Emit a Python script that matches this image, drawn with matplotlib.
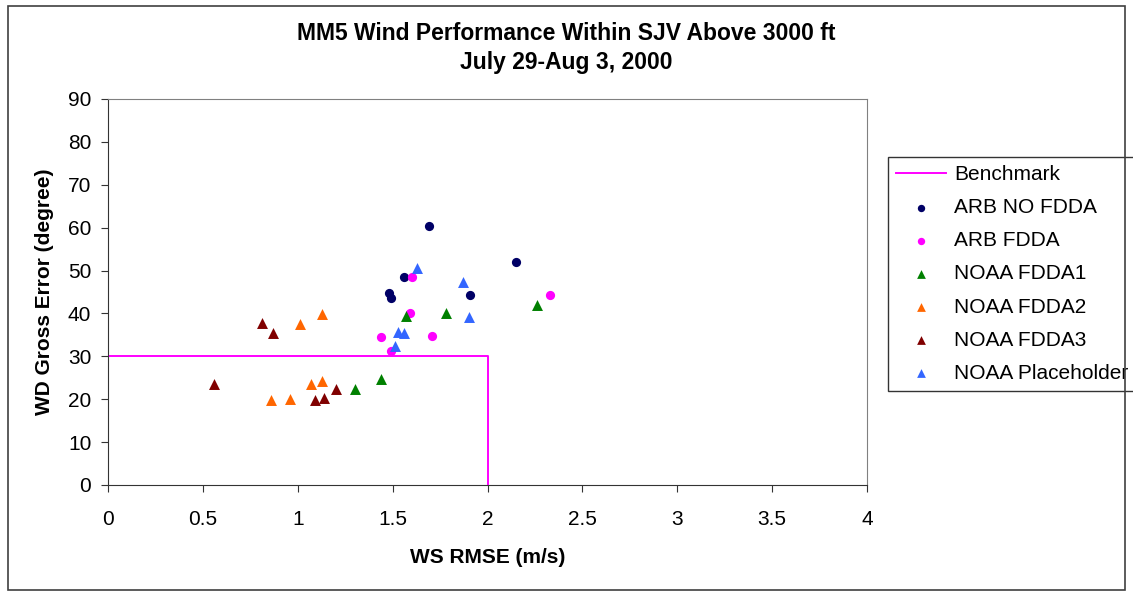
"""MM5 wind performance scatter (WS RMSE vs WD gross error)."""

import matplotlib

matplotlib.use("Agg")

import matplotlib.pyplot as plt
from matplotlib.patches import Rectangle

plt.rcParams["font.family"] = ["Liberation Sans", "DejaVu Sans"]

# benchmark box
bench_x = [0, 2, 2]
bench_y = [30, 30, 0]

arb_no_fdda_x = [1.69, 2.15, 1.56, 1.48, 1.49, 1.91]
arb_no_fdda_y = [60.5, 52.0, 48.4, 44.7, 43.5, 44.2]

arb_fdda_x = [1.60, 1.59, 1.44, 1.49, 1.71, 2.33]
arb_fdda_y = [48.6, 40.2, 34.4, 31.2, 34.7, 44.2]

fdda1_x = [1.57, 1.78, 2.26, 1.30, 1.44]
fdda1_y = [39.3, 40.2, 41.9, 22.5, 24.6]

fdda2_x = [1.13, 1.01, 1.07, 1.13, 0.86, 0.96]
fdda2_y = [39.9, 37.5, 23.5, 24.3, 19.8, 20.1]

fdda3_x = [0.81, 0.87, 0.56, 1.20, 1.14, 1.09]
fdda3_y = [37.8, 35.5, 23.5, 22.5, 20.4, 19.8]

placeholder_x = [1.63, 1.87, 1.90, 1.53, 1.56, 1.51]
placeholder_y = [50.5, 47.4, 39.2, 35.7, 35.5, 32.4]

series = [
    ("ARB NO FDDA", arb_no_fdda_x, arb_no_fdda_y, "o", "#000066"),
    ("ARB FDDA", arb_fdda_x, arb_fdda_y, "o", "#ff00ff"),
    ("NOAA FDDA1", fdda1_x, fdda1_y, "^", "#008000"),
    ("NOAA FDDA2", fdda2_x, fdda2_y, "^", "#ff6600"),
    ("NOAA FDDA3", fdda3_x, fdda3_y, "^", "#800000"),
    ("NOAA Placeholder", placeholder_x, placeholder_y, "^", "#3366ff"),
]


def main() -> None:
    fig = plt.figure(figsize=(11.33, 5.96), dpi=100)
    fig.patches.append(Rectangle((0.007, 0.01), 0.986, 0.98, transform=fig.transFigure,
                                 fill=False, edgecolor="#404040", linewidth=1.2))
    ax = fig.add_axes([108 / 1133, 1 - 485 / 596, (867 - 108) / 1133, (485 - 99) / 596])

    ax.plot(bench_x, bench_y, color="#ff00ff", linewidth=1.4, label="Benchmark")
    for label, xs, ys, marker, color in series:
        ax.scatter(xs, ys, marker=marker, s=62 if marker == "^" else 44,
                   color=color, label=label, zorder=3, linewidths=0)

    ax.set_xlim(0, 4)
    ax.set_ylim(0, 90)
    ax.set_xticks([0, 0.5, 1, 1.5, 2, 2.5, 3, 3.5, 4])
    ax.set_xticklabels(["0", "0.5", "1", "1.5", "2", "2.5", "3", "3.5", "4"])
    ax.set_yticks(range(0, 91, 10))
    ax.tick_params(labelsize=15, direction="out", length=5, color="#333333")
    ax.tick_params(axis="x", pad=13)
    ax.tick_params(axis="y", pad=7)
    for side in ("top", "right"):
        ax.spines[side].set_color("#808080")
    for side in ("left", "bottom"):
        ax.spines[side].set_color("#333333")

    ax.set_xlabel("WS RMSE (m/s)", fontsize=15, fontweight="bold", labelpad=14)
    ax.set_ylabel("WD Gross Error (degree)", fontsize=15, fontweight="bold", labelpad=10)
    fig.text(0.5, 1 - 33 / 596, "MM5 Wind Performance Within SJV Above 3000 ft",
             ha="center", va="center", fontsize=16.5, fontweight="bold")
    fig.text(0.5, 1 - 63 / 596, "July 29-Aug 3, 2000",
             ha="center", va="center", fontsize=16.5, fontweight="bold")

    leg = ax.legend(loc="upper left", bbox_to_anchor=(888 / 1133, 1 - 157 / 596),
                    bbox_transform=fig.transFigure, fontsize=15, frameon=True,
                    fancybox=False, edgecolor="black", handlelength=2.4,
                    labelspacing=0.68, borderpad=0.38, handletextpad=0.4,
                    markerscale=0.8, borderaxespad=0)
    leg.get_frame().set_linewidth(1.0)

    fig.savefig("out.png", dpi=100)
    plt.close(fig)


if __name__ == "__main__":
    main()
